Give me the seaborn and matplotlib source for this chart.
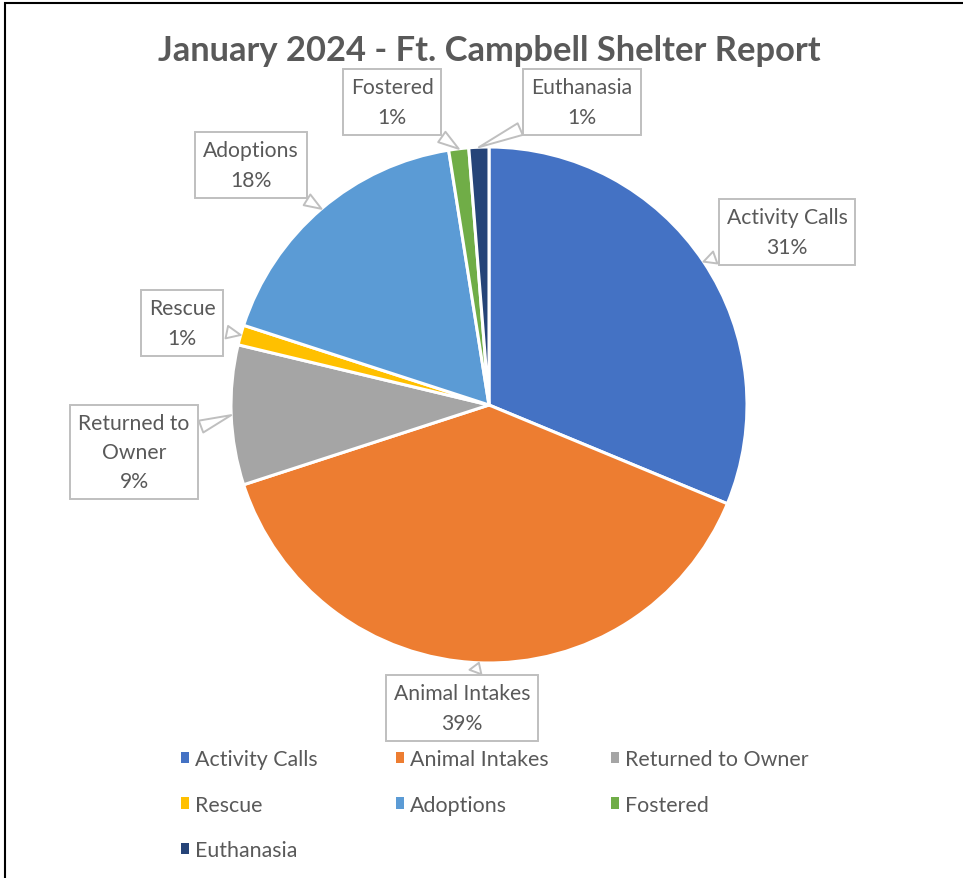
import matplotlib
matplotlib.use("Agg")
import matplotlib.pyplot as plt
from matplotlib.patches import Rectangle
import numpy as np
import seaborn as sns

# ---- data ----
categories = ["Activity Calls", "Animal Intakes", "Returned to Owner", "Rescue",
              "Adoptions", "Fostered", "Euthanasia"]
counts = [25, 31, 7, 1, 14, 1, 1]
label_texts = ["Activity Calls", "Animal Intakes", "Returned to\nOwner", "Rescue",
               "Adoptions", "Fostered", "Euthanasia"]
colors = ["#4472C4", "#ED7D31", "#A5A5A5", "#FFC000", "#5B9BD5", "#70AD47", "#264478"]
title = "January 2024 - Ft. Campbell Shelter Report"

sns.set_theme(style="white")
plt.rcParams["font.family"] = ["Lato", "DejaVu Sans"]
palette = sns.color_palette(colors)

W, H = 963, 879
CX, CY, R = 489, 406, 258  # pie centre / radius in pixels (layout)

fig = plt.figure(figsize=(W / 100, H / 100), dpi=100)
ax = fig.add_axes([0, 0, 1, 1])

wedges, _ = ax.pie(counts, colors=palette, startangle=90, counterclock=False,
                   radius=1.0, center=(0, 0),
                   wedgeprops=dict(edgecolor="white", linewidth=2.2))
ax.set_xlim(-CX / R, (W - CX) / R)
ax.set_ylim(-(H - CY) / R, CY / R)
ax.set_aspect("equal")
ax.axis("off")

# label box centres (pixels, layout only)
label_pos_px = [(787, 233), (462, 709), (134, 453), (182, 324),
                (251, 166), (392, 103), (582, 103)]

def px2data(x, y):
    return ((x - CX) / R, (CY - y) / R)

total = sum(counts)
txt_col = "#595959"
for w, cnt, lab, (px, py) in zip(wedges, counts, label_texts, label_pos_px):
    mid = np.deg2rad((w.theta1 + w.theta2) / 2)
    pt = (np.cos(mid), np.sin(mid))
    p = cnt / total * 100
    pct = f"{int(np.floor(p + 0.5))}%"
    ax.annotate(f"{lab}\n{pct}", xy=pt, xytext=px2data(px, py),
                ha="center", va="center", fontsize=15.2, color=txt_col,
                linespacing=1.58,
                bbox=dict(boxstyle="square,pad=0.38", fc="white", ec="#BFBFBF", lw=1.4),
                arrowprops=dict(arrowstyle="wedge,tail_width=0.6,shrink_factor=0.5",
                                fc="white", ec="#BFBFBF", lw=1.4, shrinkB=0))

fig.text(CX / W, 1 - 51 / H, title, ha="center", va="center",
         fontsize=24.8, fontweight="bold", color=txt_col)

# legend, three columns laid out row-wise
handles = [Rectangle((0, 0), 1, 1, fc=c, ec="none") for c in palette]
col_x = [181, 396, 611]
for ci, x in enumerate(col_x):
    idx = list(range(ci, len(categories), 3))
    leg = fig.legend([handles[i] for i in idx], [categories[i] for i in idx],
                     loc="upper left", bbox_to_anchor=(x / W, 1 - 750 / H),
                     bbox_transform=fig.transFigure, frameon=False,
                     fontsize=15.4, labelcolor=txt_col, handlelength=0.36,
                     handleheight=0.42, handletextpad=0.3, labelspacing=1.2,
                     borderpad=0, borderaxespad=0)

# chart-area frame
fig.patches.append(Rectangle((5 / W, -0.1), 1.2, 1 - 4 / H + 0.1,
                             transform=fig.transFigure, fill=False,
                             ec="black", lw=1.5))

fig.savefig("out.png", dpi=100)
